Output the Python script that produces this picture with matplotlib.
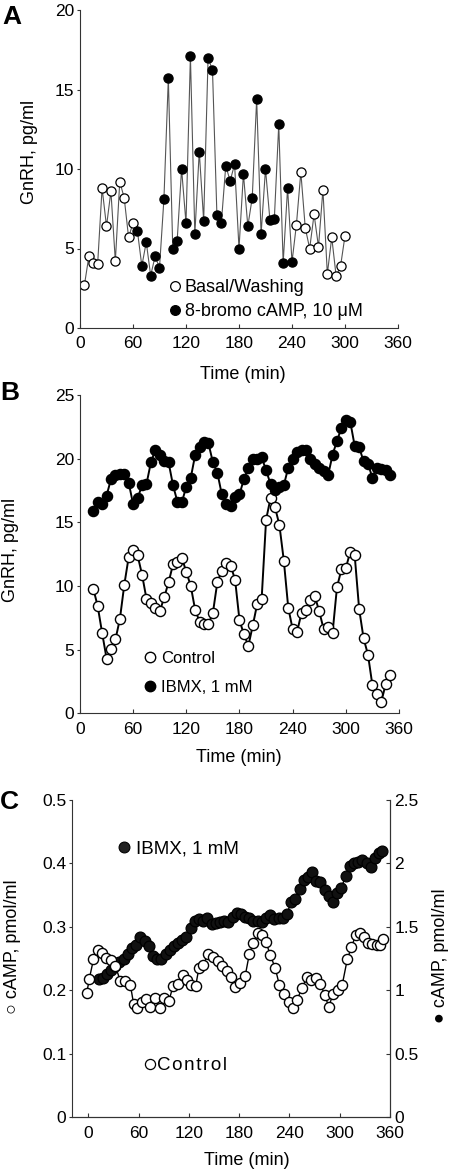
import matplotlib
matplotlib.use("Agg")
import matplotlib.pyplot as plt
from matplotlib.lines import Line2D

plt.rcParams['font.family'] = ['Liberation Sans', 'DejaVu Sans']

# ---- panel A : 8-bromo cAMP ----
a_basal1_t = [5, 10, 15, 20, 25, 30, 35, 40, 45, 50, 55, 60]
a_basal1 = [2.7, 4.5, 4.1, 4.05, 8.8, 6.4, 8.6, 4.2, 9.2, 8.2, 5.7, 6.6]
a_bromo_t = [65, 70, 75, 80, 85, 90, 95, 100, 105, 110, 115, 120,
             125, 130, 135, 140, 145, 150, 155, 160, 165, 170, 175, 180,
             185, 190, 195, 200, 205, 210, 215, 220, 225, 230, 235, 240]
a_bromo = [6.1, 3.9, 5.4, 3.3, 4.5, 3.8, 8.1, 15.7, 5.0, 5.5, 10.0, 6.6,
           17.1, 5.9, 11.1, 6.75, 17.0, 16.2, 7.1, 6.6, 10.2, 9.25, 10.3, 5.0,
           9.7, 6.4, 8.2, 14.4, 5.9, 10.0, 6.8, 6.85, 12.8, 4.1, 8.8, 4.15]
a_basal2_t = [245, 250, 255, 260, 265, 270, 275, 280, 285, 290, 295, 300]
a_basal2 = [6.5, 9.8, 6.3, 5.0, 7.15, 5.1, 8.7, 3.4, 5.7, 3.25, 3.9, 5.8]

# ---- panel B : IBMX on GnRH ----
b_t = [15, 20, 25, 30, 35, 40, 45, 50, 55, 60, 65, 70, 75, 80, 85, 90, 95,
       100, 105, 110, 115, 120, 125, 130, 135, 140, 145, 150, 155, 160, 165,
       170, 175, 180, 185, 190, 195, 200, 205, 210, 215, 220, 225, 230, 235,
       240, 245, 250, 255, 260, 265, 270, 275, 280, 285, 290, 295, 300, 305,
       310, 315, 320, 325, 330, 335, 340, 345, 350]
b_control = [9.8, 8.4, 6.3, 4.3, 5.05, 5.8, 7.4, 10.1, 12.3, 12.8, 12.4, 10.9,
             9.0, 8.7, 8.3, 8.0, 9.1, 10.3, 11.7, 11.9, 12.2, 11.1, 10.0, 8.1,
             7.2, 7.0, 7.0, 7.9, 10.3, 11.2, 11.8, 11.6, 10.5, 7.3, 6.2, 5.3,
             6.9, 8.6, 9.0, 15.2, 16.9, 16.2, 14.8, 12.0, 8.3, 6.6, 6.4, 7.9,
             8.1, 8.9, 9.2, 8.0, 6.6, 6.8, 6.3, 9.9, 11.3, 11.4, 12.7, 12.4,
             8.2, 5.9, 4.6, 2.2, 1.5, 0.9, 2.3, 3.0]
b_ibmx = [15.9, 16.6, 16.4, 17.1, 18.4, 18.7, 18.8, 18.8, 18.1, 16.4, 16.9, 17.9,
          18.0, 19.7, 20.7, 20.3, 19.8, 19.7, 17.9, 16.6, 16.6, 17.8, 18.5, 20.3,
          20.9, 21.3, 21.2, 19.7, 18.9, 17.2, 16.4, 16.3, 17.0, 17.2, 18.4, 19.3,
          20.0, 20.0, 20.1, 19.1, 18.0, 17.5, 17.8, 17.9, 19.3, 20.0, 20.5, 20.7,
          20.7, 20.0, 19.6, 19.3, 19.0, 18.7, 20.3, 21.4, 22.4, 23.0, 22.9, 21.0,
          20.9, 19.8, 19.6, 18.5, 19.3, 19.2, 19.1, 18.7]

# ---- panel C : cAMP ----
c_control_t = [-2, 1, 6, 11, 16, 21, 27, 32, 38, 44, 50, 54, 58, 64, 69, 74,
               80, 85, 90, 96, 101, 107, 113, 118, 123, 128, 132, 137, 143, 149,
               155, 160, 165, 170, 175, 181, 187, 192, 197, 202, 207, 212, 217,
               223, 228, 234, 239, 244, 249, 255, 261, 266, 272, 277, 282, 287,
               292, 298, 303, 309, 314, 319, 324, 329, 334, 339, 344, 348, 352]
c_control = [0.196, 0.218, 0.249, 0.263, 0.259, 0.251, 0.248, 0.239, 0.215, 0.215,
             0.209, 0.178, 0.173, 0.181, 0.187, 0.174, 0.188, 0.172, 0.188, 0.183,
             0.207, 0.210, 0.225, 0.216, 0.208, 0.207, 0.236, 0.240, 0.258, 0.253,
             0.246, 0.238, 0.231, 0.221, 0.206, 0.211, 0.222, 0.257, 0.274, 0.290,
             0.287, 0.276, 0.256, 0.235, 0.208, 0.195, 0.181, 0.172, 0.185, 0.204,
             0.221, 0.217, 0.220, 0.210, 0.193, 0.174, 0.195, 0.201, 0.209, 0.249,
             0.268, 0.287, 0.291, 0.284, 0.275, 0.273, 0.272, 0.272, 0.281]
c_ibmx_t = [12, 17, 22, 27, 32, 37, 42, 47, 52, 57, 62, 67, 72, 77, 82, 87, 92,
            97, 102, 107, 112, 117, 122, 127, 132, 137, 142, 147, 152, 157, 162,
            167, 172, 177, 182, 187, 192, 197, 202, 207, 212, 217, 222, 227, 232,
            237, 242, 247, 252, 257, 262, 267, 272, 277, 282, 287, 292, 297, 302,
            307, 312, 317, 322, 327, 332, 337, 342, 347, 351]
c_ibmx = [1.09, 1.10, 1.13, 1.16, 1.19, 1.22, 1.25, 1.29, 1.33, 1.36, 1.42, 1.39,
          1.35, 1.27, 1.25, 1.25, 1.29, 1.32, 1.35, 1.37, 1.40, 1.42, 1.49, 1.55,
          1.56, 1.55, 1.57, 1.52, 1.53, 1.54, 1.55, 1.54, 1.58, 1.61, 1.60, 1.58,
          1.57, 1.55, 1.55, 1.54, 1.57, 1.59, 1.56, 1.57, 1.57, 1.60, 1.70, 1.72,
          1.80, 1.87, 1.89, 1.93, 1.86, 1.85, 1.79, 1.74, 1.70, 1.77, 1.81, 1.90,
          1.98, 2.00, 2.01, 2.03, 2.00, 1.97, 2.04, 2.08, 2.10]

time_ticks = [0, 60, 120, 180, 240, 300, 360]

W, H = 452, 1174
fig = plt.figure(figsize=(W / 100, H / 100), dpi=100)

TICK_FS = 12.5
LAB_FS = 13
AX_COL = '#333333'


def style_axes(ax, right=False):
    ax.spines['top'].set_visible(False)
    if not right:
        ax.spines['right'].set_visible(False)
    for s in ax.spines.values():
        s.set_color(AX_COL)
        s.set_linewidth(0.8)
    ax.tick_params(axis='x', direction='in', length=3, width=0.8,
                   colors=AX_COL, labelcolor='black', labelsize=TICK_FS, pad=6)
    ax.tick_params(axis='y', direction='out', length=2.5, width=0.8,
                   colors=AX_COL, labelcolor='black', labelsize=TICK_FS, pad=1.5)


def panel_letter(x, y, s):
    fig.text(x / W, 1 - y / H, s, fontsize=19, fontweight='bold',
             ha='left', va='center')


# ---------------- A ----------------
axA = fig.add_axes([80 / W, 1 - 328 / H, 318 / W, 318 / H])
style_axes(axA)
all_t = a_basal1_t + a_bromo_t + a_basal2_t
all_v = a_basal1 + a_bromo + a_basal2
axA.plot(all_t, all_v, color='#555555', lw=0.8, zorder=1)
mkA = dict(ls='none', marker='o', ms=6.6, mec='black', mew=0.9, zorder=2)
axA.plot(a_basal1_t, a_basal1, mfc='white', **mkA)
axA.plot(a_basal2_t, a_basal2, mfc='white', **mkA)
axA.plot(a_bromo_t, a_bromo, mfc='black', **mkA)
axA.set_xlim(0, 360)
axA.set_ylim(0, 20)
axA.set_xticks(time_ticks)
axA.set_yticks([0, 5, 10, 15, 20])
axA.set_xlabel('Time (min)', fontsize=LAB_FS)
axA.set_ylabel('GnRH, pg/ml', fontsize=LAB_FS)
axA.xaxis.set_label_coords(0.511, -0.121)
axA.yaxis.set_label_coords(-0.133, 0.553)
hA = [Line2D([], [], ls='none', marker='o', ms=7, mfc='white', mec='black', mew=0.9),
      Line2D([], [], ls='none', marker='o', ms=7, mfc='black', mec='black', mew=0.9)]
axA.legend(hA, ['Basal/Washing', '8-bromo cAMP, 10 \u03bcM'], loc='center left',
           bbox_to_anchor=((169.5 - 80) / 318, (328 - 299.5) / 318), frameon=False,
           fontsize=LAB_FS, handlelength=0.6, handletextpad=0.25, borderpad=0,
           labelspacing=0.38, borderaxespad=0)
panel_letter(2, 17, 'A')

# ---------------- B ----------------
axB = fig.add_axes([80 / W, 1 - 713.3 / H, 319 / W, 318.3 / H])
style_axes(axB)
mkB = dict(marker='o', ms=7.3, mec='black', mew=1.0, color='black', lw=1.4)
axB.plot(b_t, b_control, mfc='white', zorder=2, **mkB)
axB.plot(b_t, b_ibmx, mfc='black', zorder=3, **mkB)
axB.set_xlim(0, 360)
axB.set_ylim(0, 25)
axB.set_xticks(time_ticks)
axB.set_yticks([0, 5, 10, 15, 20, 25])
axB.set_xlabel('Time (min)', fontsize=LAB_FS)
axB.set_ylabel('GnRH, pg/ml', fontsize=LAB_FS)
axB.xaxis.set_label_coords(0.498, -0.113)
axB.yaxis.set_label_coords(-0.190, 0.513)
hB = [Line2D([], [], ls='none', marker='o', ms=7.5, mfc='white', mec='black', mew=1.0),
      Line2D([], [], ls='none', marker='o', ms=7.5, mfc='black', mec='black', mew=1.0)]
axB.legend(hB, ['Control', 'IBMX, 1 mM'], loc='center left',
           bbox_to_anchor=((145 - 80) / 319, (713.3 - 673) / 318.3), frameon=False,
           fontsize=12, handlelength=0.6, handletextpad=0.35, borderpad=0,
           labelspacing=0.8, borderaxespad=0)
panel_letter(0, 393, 'B')

# ---------------- C ----------------
axC = fig.add_axes([71.7 / W, 1 - 1117.3 / H, 318.3 / W, 317.3 / H])
style_axes(axC, right=True)
axC2 = axC.twinx()
style_axes(axC2, right=True)
axC2.spines['left'].set_visible(False)
axC2.tick_params(axis='y', direction='in', length=3, pad=3)
axC.set_zorder(axC2.get_zorder() + 1)
axC.patch.set_visible(False)

axC2.plot(c_ibmx_t, c_ibmx, marker='o', ms=7.8, mfc='#111111', mec='black',
          mew=0.9, color='black', lw=1.0)
axC.plot(c_control_t, c_control, marker='o', ms=7.3, mfc='white', mec='black',
         mew=1.0, color='black', lw=1.0)
axC.set_xlim(-20, 360)
axC.set_ylim(0, 0.5)
axC2.set_ylim(0, 2.5)
axC.set_xticks(time_ticks)
axC.set_yticks([0, 0.1, 0.2, 0.3, 0.4, 0.5])
axC.set_yticklabels(['0', '0.1', '0.2', '0.3', '0.4', '0.5'])
axC2.set_yticks([0, 0.5, 1, 1.5, 2, 2.5])
axC2.set_yticklabels(['0', '0.5', '1', '1.5', '2', '2.5'])
axC.set_xlabel('Time (min)', fontsize=LAB_FS)
axC.set_ylabel('\u25cb cAMP, pmol/ml', fontsize=LAB_FS)
axC2.set_ylabel('\u25cf cAMP, pmol/ml', fontsize=LAB_FS, rotation=90)
axC.xaxis.set_label_coords(0.551, -0.110)
axC.yaxis.set_label_coords(-0.160, 0.537)
axC2.yaxis.set_label_coords(1.133, 0.51)
legC1 = axC.legend([Line2D([], [], ls='none', marker='o', ms=7.8, mfc='#222222',
                           mec='black', mew=0.8)], ['IBMX, 1 mM'],
                   loc='center left', bbox_to_anchor=((118 - 71.7) / 318.3, 0.845),
                   frameon=False, fontsize=13.5, handlelength=0.6,
                   handletextpad=0.35, borderpad=0, borderaxespad=0)
axC.add_artist(legC1)
axC.legend([Line2D([], [], ls='none', marker='o', ms=7.3, mfc='white',
                   mec='black', mew=0.9)], ['C\u200ao\u200an\u200at\u200ar\u200ao\u200al'],
           loc='center left', bbox_to_anchor=((144 - 71.7) / 318.3, 0.162),
           frameon=False, fontsize=13.5, handlelength=0.6,
           handletextpad=0.1, borderpad=0, borderaxespad=0)
panel_letter(0, 802, 'C')

fig.savefig('out.png', dpi=100)
